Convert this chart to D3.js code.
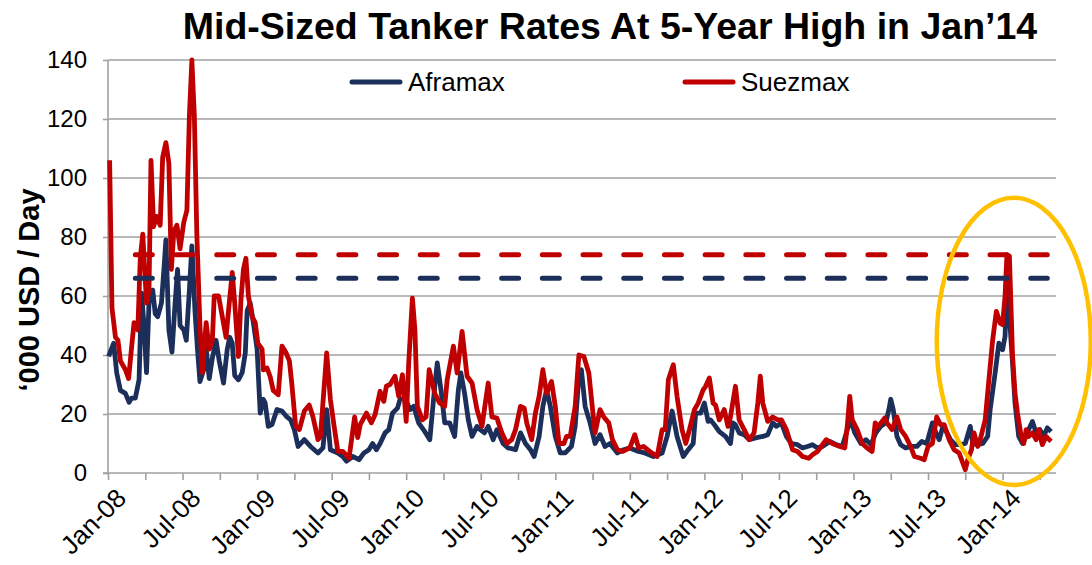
<!DOCTYPE html>
<html>
<head>
<meta charset="utf-8">
<title>Mid-Sized Tanker Rates</title>
<script src="https://d3js.org/d3.v7.min.js"></script>
<style>
  body { margin: 0; background: #fff; }
  text { font-family: "Liberation Sans", Arial, sans-serif; fill: #000; }
</style>
</head>
<body>
<svg id="chart" width="1092" height="565"></svg>
<script>
// [months since Jan-08, '000 USD / day]
var suezmax = [[0.13,106],[0.32,56],[0.6,46],[0.8,45],[1.0,38],[1.4,35],[1.66,32],[1.93,44],[2.1,51],[2.4,48.5],
  [2.6,73],[2.8,81],[3.1,57.6],[3.3,62],[3.46,106],[3.67,83.5],[3.9,87],[4.2,84],[4.4,107],[4.66,112],[4.9,105],
  [5.1,69],[5.3,82],[5.55,84],[5.8,76],[6.1,85],[6.35,89],[6.55,121],[6.75,140],[6.95,121],[7.15,81],[7.4,50],
  [7.6,34],[7.9,51],[8.15,42],[8.4,45],[8.55,60],[8.9,60],[9.2,53],[9.5,46],[9.7,55],[10,68],[10.2,57.6],[10.5,39.5],
  [10.7,58.7],[10.9,69],[11.1,72.8],[11.3,60],[11.6,53],[11.85,51],[12.06,44],[12.4,42],[12.5,35],[12.8,35.6],
  [13.05,32.7],[13.3,28],[13.7,26.5],[14,43],[14.3,41],[14.6,38],[14.8,30],[15.1,16],[15.4,14.7],[15.8,21],[16.2,23],
  [16.5,19],[16.9,11.3],[17.1,12.4],[17.6,40.7],[17.9,24.9],[18.2,15.8],[18.5,7.3],[18.9,7.3],[19.4,5],[19.85,19],
  [20.1,12],[20.3,16.4],[20.8,20.3],[21.2,17],[21.5,19.8],[21.9,27.7],[22.2,24.3],[22.4,29.4],[22.7,30],[23.1,32.8],
  [23.4,26],[23.7,33.3],[24.0,17.5],[24.2,37],[24.5,59.3],[24.7,48.6],[24.9,22.6],[25.3,18],[25.6,19],[25.85,35],
  [26.3,27],[26.7,23.7],[27.1,22.6],[27.3,31.6],[27.8,43],[28.1,33.9],[28.5,48],[28.9,32.8],[29.3,30.5],[29.7,21.5],
  [30.1,15.8],[30.6,30.5],[30.9,19],[31.3,18.6],[31.7,13.6],[32.1,10],[32.5,11.3],[32.8,14.7],[33.2,22.6],[33.5,22],
  [33.7,17],[34.1,11.3],[34.4,20.3],[34.7,26],[35,35],[35.3,27],[35.7,31],[36,22.6],[36.3,10],[36.7,10],[36.9,12.4],
  [37.2,12.4],[37.6,22.6],[37.9,40],[38.3,39.5],[38.7,33.9],[39,21.5],[39.2,13.6],[39.6,21.5],[39.9,19],[40.3,17],
  [40.6,11.3],[41,7.9],[41.4,7.3],[42,8.5],[42.4,13],[42.7,8.5],[43.1,9],[43.6,7.3],[44.2,5.6],[44.6,14.7],[44.85,14.7],
  [45.1,31.6],[45.5,36.7],[45.8,26],[46.2,14.7],[46.5,10],[46.8,14.7],[47.2,21.5],[47.5,23.7],[47.9,28.2],[48.1,29.4],
  [48.4,32.2],[48.7,23.7],[48.9,23],[49.2,18],[49.6,21.5],[49.9,15.8],[50.1,19],[50.5,29.4],[50.8,18],[51.2,14.7],
  [51.6,11.3],[52,13.6],[52.3,23.7],[52.5,32.8],[52.7,23.7],[53.1,17.5],[53.5,19],[53.9,18],[54.2,18],[54.6,14.7],
  [55.1,7.9],[55.5,7.3],[55.9,5.6],[56.4,5],[56.7,6.2],[57.1,7.3],[57.4,9],[57.8,11.3],[58.3,10],[58.9,9],[59.3,8.5],
  [59.5,15.8],[59.7,26],[59.9,18],[60.3,14.7],[60.7,10],[61.1,8.5],[61.5,7.3],[61.75,17],[62,15.8],[62.5,18.6],
  [62.7,17],[63.1,14.7],[63.5,19],[63.8,14.7],[64.2,12.4],[64.6,9],[64.9,5.6],[65.4,5],[65.7,4.5],[66,9],[66.35,10],
  [66.7,19],[67,16.4],[67.3,16.4],[67.7,11.3],[68.1,7.9],[68.5,6.8],[68.8,3.4],[69,1.1],[69.2,4.5],[69.5,7.9],
  [69.7,13.6],[70,9],[70.2,11.3],[70.6,18],[70.9,31.6],[71.2,45],[71.5,54.8],[71.8,50.8],[72,50.3],[72.2,60],
  [72.35,74],[72.55,73.5],[72.8,40],[73,27],[73.2,20.3],[73.5,12.4],[73.7,10],[73.9,14.7],[74.1,12.4],[74.4,13.6],
  [74.7,11.3],[74.9,14.7],[75.2,9.6],[75.5,12.4],[75.9,10.7]];

var aframax = [[0.05,39.5],[0.46,44],[0.7,34],[1.0,28],[1.4,27],[1.7,24],[1.9,25.4],[2.2,25.4],[2.5,31.6],[2.7,61],
  [2.9,50],[3.1,34],[3.3,57.6],[3.6,62],[3.8,54],[4.0,53],[4.3,57.6],[4.5,69],[4.66,79],[4.9,48.5],[5.15,41],
  [5.4,57.6],[5.6,69],[5.8,50],[6.1,48.5],[6.3,45],[6.55,62],[6.75,77],[7.0,55],[7.2,42],[7.4,31],[7.7,35],[7.9,42],
  [8.15,32],[8.4,39],[8.7,45],[8.95,38],[9.3,30.5],[9.6,42],[9.8,46],[10,44],[10.2,33],[10.5,31.6],[10.8,34],
  [11.05,40.6],[11.2,55],[11.45,57.6],[11.7,51],[12.0,42],[12.25,20.3],[12.5,25],[12.65,23.7],[12.9,15.8],[13.2,16.4],
  [13.6,21.5],[14,21],[14.4,19],[14.7,18],[15,14.7],[15.3,9],[15.8,11.3],[16.3,9],[16.9,6.8],[17.3,8.5],[17.6,21.5],
  [17.9,7.9],[18.5,6.8],[18.9,5.6],[19.2,4],[19.7,5.6],[20.2,4.5],[20.6,6.8],[21,7.9],[21.3,10],[21.6,7.9],[21.9,10],
  [22.3,13.6],[22.6,14.7],[22.9,20.3],[23.3,22],[23.5,24.9],[23.9,25.4],[24.3,21.5],[24.6,22.6],[25,17],[25.5,14],
  [25.9,11.3],[26.3,29.4],[26.5,37.3],[26.8,28.2],[27.1,17],[27.5,17],[27.9,12.4],[28.2,28.2],[28.4,33.9],[28.7,27],
  [29,18],[29.3,12.4],[29.7,15.8],[29.95,14.7],[30.3,13.6],[30.6,15.8],[31,11.3],[31.3,14.7],[31.8,10],[32.2,8.5],
  [32.8,7.9],[33.2,13.6],[33.6,10],[34,7.9],[34.3,5.6],[34.7,12.4],[35,22.6],[35.3,28.2],[35.6,22.6],[36,12.4],
  [36.4,6.8],[36.8,6.8],[37.3,9],[37.6,15.8],[37.9,32.8],[38.1,35],[38.4,22.6],[38.8,17],[39.2,10],[39.6,13],[40,9],
  [40.4,10],[41,6.8],[41.5,7.9],[42,8.5],[42.7,7.3],[43.2,6.8],[43.9,5.6],[44.6,6.8],[45,12.4],[45.4,21],[45.8,12.4],
  [46.3,5.6],[46.7,7.9],[47.1,10],[47.3,20.3],[47.7,20.3],[48,23.7],[48.3,17.5],[48.5,18],[48.8,16.4],[49.2,14],
  [49.7,12.4],[50.1,10],[50.3,17],[50.5,16.4],[50.8,13.6],[51.2,13],[51.6,11.3],[52.2,12],[52.7,12.4],[53.1,13],
  [53.5,17],[53.8,15.8],[54.2,17],[54.6,12.4],[55,10],[55.5,9.6],[55.9,8.5],[56.3,9],[56.7,9.6],[57.1,8.5],[57.5,9],
  [58.1,10.7],[58.6,9.6],[59.1,9],[59.5,14.7],[59.8,18],[60.1,13.6],[60.6,10],[61,11.3],[61.4,9.6],[61.8,13.6],
  [62.2,15.8],[62.6,17],[62.85,21.5],[63.0,25],[63.2,21.5],[63.5,12.4],[63.8,9.6],[64.2,8.5],[64.7,9],[65.1,9],
  [65.5,10.7],[65.9,10],[66.35,17],[66.6,14],[66.9,11.3],[67.2,15.8],[67.4,14.7],[67.8,11.3],[68.2,9.6],[68.6,9.6],
  [69,10],[69.4,15.8],[69.6,10],[70,9.6],[70.4,10],[70.8,12.4],[71,21.5],[71.4,33.9],[71.7,44],[72,41.8],[72.2,46.3],
  [72.35,66],[72.5,56.5],[72.8,37.3],[73,23.7],[73.3,12.4],[73.6,10],[73.9,12.4],[74.1,14.7],[74.4,17.5],[74.7,13.6],
  [75,14.7],[75.3,12.4],[75.6,15.3],[75.9,14]];

// 5-year high reference levels and the months they span
var suezHigh = 74, afraHigh = 66;
var highSpan = [2.2, 75.6];

var monthTicks = d3.range(0, 76, 3);
var tickLabels = ["Jan-08","Jul-08","Jan-09","Jul-09","Jan-10","Jul-10","Jan-11","Jul-11","Jan-12","Jul-12","Jan-13","Jul-13","Jan-14"];
var yTicks = [0, 20, 40, 60, 80, 100, 120, 140];

var navy = "#1c2f5a", red = "#c00000", gold = "#ffc000", grid = "#a0a0a0";

var svg = d3.select("#chart");
var plotL = 108, plotR = 1056, plotT = 60, plotB = 473;

var x = d3.scaleLinear().domain([0, 76.3]).range([plotL, plotR]);
var y = d3.scaleLinear().domain([0, 140]).range([plotB, plotT]);

// title
svg.append("text")
  .attr("x", 610).attr("y", 39)
  .attr("text-anchor", "middle")
  .style("font-size", "37.5px").style("font-weight", "bold")
  .text("Mid-Sized Tanker Rates At 5-Year High in Jan\u201914");

// gridlines
svg.append("g").selectAll("line").data(yTicks.slice(1)).enter().append("line")
  .attr("x1", plotL).attr("x2", plotR)
  .attr("y1", function(d) { return y(d); }).attr("y2", function(d) { return y(d); })
  .attr("stroke", grid).attr("stroke-width", 1.6);

// y axis
var yAxis = svg.append("g").attr("transform", "translate(" + plotL + ",0)")
  .call(d3.axisLeft(y).tickValues(yTicks).tickSize(5).tickPadding(16));
yAxis.select(".domain").remove();
yAxis.selectAll(".tick line").attr("stroke", grid).attr("stroke-width", 1.6);
yAxis.selectAll(".tick text").style("font-size", "24px").style("font-family", "Liberation Sans, Arial, sans-serif").attr("fill", "#000");
svg.append("line").attr("x1", plotL).attr("x2", plotL).attr("y1", plotT).attr("y2", plotB)
  .attr("stroke", grid).attr("stroke-width", 1.6);

// y title
svg.append("text")
  .attr("transform", "translate(39,290) rotate(-90)")
  .attr("text-anchor", "middle")
  .style("font-size", "29px").style("font-weight", "bold")
  .text("\u2018000 USD / Day");

// x axis
var xAxis = svg.append("g").attr("transform", "translate(0," + plotB + ")")
  .call(d3.axisBottom(x).tickValues(monthTicks).tickSize(7).tickFormat(""));
xAxis.select(".domain").remove();
xAxis.selectAll(".tick line").attr("stroke", grid).attr("stroke-width", 1.6);
svg.append("line").attr("x1", plotL - 5).attr("x2", plotR).attr("y1", plotB).attr("y2", plotB)
  .attr("stroke", grid).attr("stroke-width", 1.6);

svg.append("g").selectAll("text").data(tickLabels).enter().append("text")
  .attr("transform", function(d, i) { return "translate(" + (x(i * 6) + 6) + "," + (plotB + 13) + ") rotate(-45)"; })
  .attr("text-anchor", "end")
  .attr("dy", "0.75em")
  .style("font-size", "26px")
  .text(function(d) { return d; });

// series
var line = d3.line()
  .x(function(d) { return x(d[0]); })
  .y(function(d) { return y(d[1]); });

svg.append("path").datum(aframax)
  .attr("fill", "none").attr("stroke", navy).attr("stroke-width", 4.8)
  .attr("stroke-linejoin", "round").attr("d", line);
svg.append("path").datum(suezmax)
  .attr("fill", "none").attr("stroke", red).attr("stroke-width", 4.8)
  .attr("stroke-linejoin", "round").attr("d", line);

// 5-year high dashed lines
[[afraHigh, navy], [suezHigh, red]].forEach(function(h) {
  svg.append("line")
    .attr("x1", x(highSpan[0])).attr("x2", x(highSpan[1]))
    .attr("y1", y(h[0])).attr("y2", y(h[0]))
    .attr("stroke", h[1]).attr("stroke-width", 5)
    .attr("stroke-linecap", "round")
    .attr("stroke-dasharray", "17,23.7");
});

// legend
var legend = [["Aframax", navy, 352], ["Suezmax", red, 685]];
legend.forEach(function(l) {
  svg.append("line")
    .attr("x1", l[2]).attr("x2", l[2] + 48).attr("y1", 82).attr("y2", 82)
    .attr("stroke", l[1]).attr("stroke-width", 5).attr("stroke-linecap", "round");
  svg.append("text")
    .attr("x", l[2] + 56).attr("y", 91)
    .style("font-size", "26px")
    .text(l[0]);
});

// highlight ellipse around the Jan-14 spike
var cx = x(72.9), cy = y(44.6);
svg.append("ellipse")
  .attr("cx", cx).attr("cy", cy)
  .attr("rx", x(79.1) - cx).attr("ry", y(-4.1) - cy)
  .attr("fill", "none").attr("stroke", gold).attr("stroke-width", 4.5);
</script>
</body>
</html>
